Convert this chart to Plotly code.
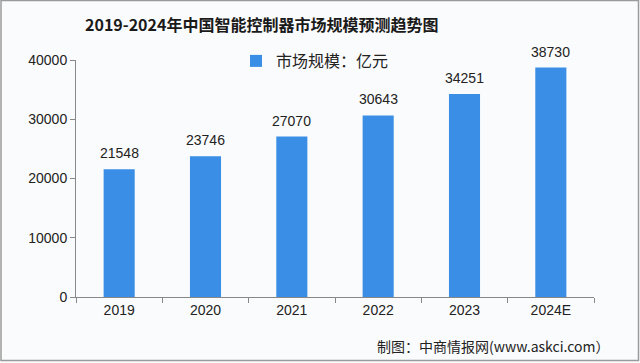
import plotly.graph_objects as go

years = ["2019", "2020", "2021", "2022", "2023", "2024E"]
values = [21548, 23746, 27070, 30643, 34251, 38730]
series_name = "市场规模：亿元"
title_text = "2019-2024年中国智能控制器市场规模预测趋势图"
source_text = "制图：中商情报网(www.askci.com）"

W, H = 640, 363
L, R, T, B = 76, 46, 60, 66
pw, ph = W - L - R, H - T - B

def px_x(x):
    return (x - L) / pw

def px_y(y):
    return (H - B - y) / ph

fig = go.Figure()
fig.add_trace(go.Bar(
    x=years, y=values, name=series_name,
    marker=dict(color="#3a8ee6", line=dict(width=0)),
    showlegend=True,
))

value_labels = [
    dict(x=i, y=v, xref="x", yref="y", text=str(v), showarrow=False,
         yanchor="bottom", yshift=6,
         font=dict(family="Liberation Sans, Arial", size=14, color="#222"))
    for i, v in enumerate(values)
]

fig.update_layout(
    width=W, height=H,
    margin=dict(l=L, r=R, t=T, b=B),
    paper_bgcolor="#fafbfc", plot_bgcolor="#fafbfc",
    bargap=0.64,
    font=dict(family="Liberation Sans, Noto Sans CJK SC", size=14, color="#222"),
    legend=dict(orientation="h", x=px_x(236), xanchor="left", y=px_y(61), yanchor="middle",
                font=dict(family="Noto Sans CJK SC", size=16, color="#222"),
                bgcolor="rgba(0,0,0,0)", itemwidth=30),
    xaxis=dict(type="category", categoryorder="array", categoryarray=years,
               showline=True, linecolor="#888", linewidth=1, ticks="outside", ticklen=5,
               tickcolor="#888", tickson="boundaries", showgrid=False,
               tickfont=dict(family="Liberation Sans, Arial", size=14, color="#222")),
    yaxis=dict(range=[0, 40000], dtick=10000, tickformat="d", showline=True, linecolor="#888",
               linewidth=1, ticks="outside", ticklen=5, tickcolor="#888", showgrid=False,
               zeroline=False,
               tickfont=dict(family="Liberation Sans, Arial", size=14, color="#222")),
    annotations=value_labels + [
        dict(text="<b>" + title_text + "</b>", x=px_x(261), y=px_y(24), xref="paper", yref="paper",
             showarrow=False, xanchor="center", yanchor="middle",
             font=dict(family="Noto Sans CJK SC", size=16, color="#1a1a1a")),
        dict(text=source_text, x=px_x(612), y=px_y(346), xref="paper", yref="paper",
             showarrow=False, xanchor="right", yanchor="middle",
             font=dict(family="Noto Sans CJK SC", size=14, color="#222")),
    ],
    shapes=[
        dict(type="rect", xref="paper", yref="paper",
             x0=px_x(1), x1=px_x(638.5), y0=px_y(360.5), y1=px_y(0.5),
             line=dict(color="#9a9a9a", width=1.5), fillcolor="rgba(0,0,0,0)", layer="below"),
    ],
)

fig.write_html("out.html")
